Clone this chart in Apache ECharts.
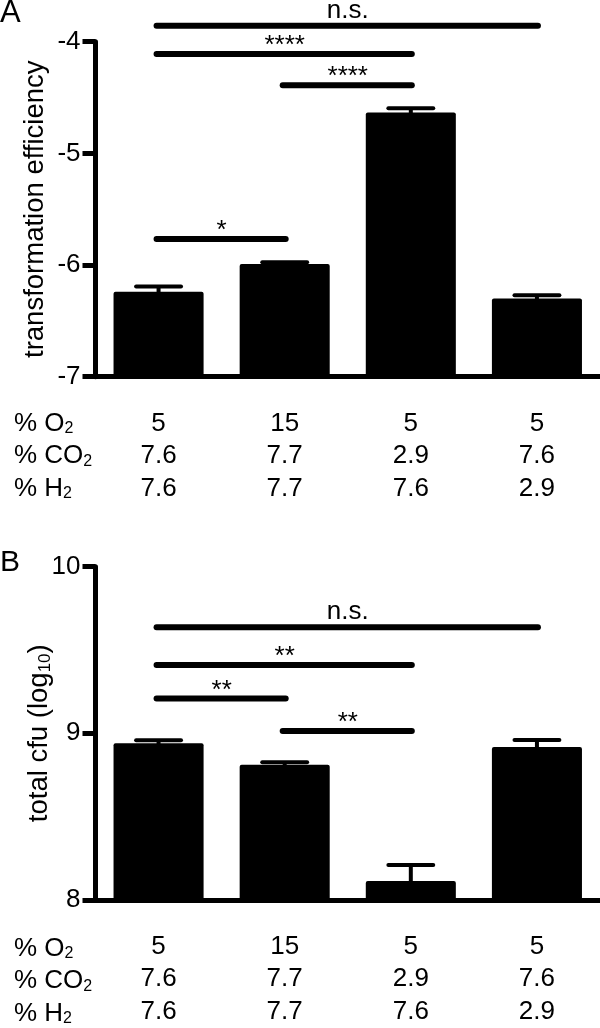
<!DOCTYPE html>
<html><head><meta charset="utf-8">
<script src="https://cdn.jsdelivr.net/npm/echarts@6/dist/echarts.min.js"></script>
<style>html,body{margin:0;padding:0;background:#fff}#c{width:600px;height:1028px}</style>
</head><body><div id="c"></div>
<script>
// ---- data ----
const categories = ['5% O2 / 7.6% CO2 / 7.6% H2', '15% O2 / 7.7% CO2 / 7.7% H2', '5% O2 / 2.9% CO2 / 7.6% H2', '5% O2 / 7.6% CO2 / 2.9% H2'];
const o2Labels = ['5', '15', '5', '5'];
const co2Labels = ['7.6', '7.7', '2.9', '7.6'];
const h2Labels = ['7.6', '7.7', '7.6', '2.9'];
const rowHeaders = ['% O{s|2}', '% CO{s|2}', '% H{s|2}'];

const efficiencyMean = [-6.24, -5.99, -4.635, -6.30];
const efficiencySem = [0.047, 0.015, 0.040, 0.030];
const efficiencyTicks = [-7, -6, -5, -4];
const efficiencySig = [[0, 3, -3.858], [0, 2, -4.111], [1, 2, -4.389], [0, 1, -5.767]];
const efficiencySigLabels = ['n.s.', '****', '****', '*'];

const cfuMean = [8.94, 8.81, 8.113, 8.918];
const cfuSem = [0.018, 0.016, 0.096, 0.042];
const cfuTicks = [8, 9, 10];
const cfuSig = [[0, 3, 9.636], [0, 2, 9.409], [0, 1, 9.208], [1, 2, 9.013]];
const cfuSigLabels = ['n.s.', '**', '**', '**'];

// ---- rendering ----
const FONT = '"Liberation Sans", Arial, Helvetica, sans-serif';
const chart = echarts.init(document.getElementById('c'), null, { renderer: 'canvas' });

const gridA = { left: 95.5, top: 41.7, width: 504.5, height: 335 };
const gridB = { left: 95.5, top: 566.7, width: 504.5, height: 335 };

function barRenderer(axisMin) {
  return function (params, api) {
    const i = api.value(0), v = api.value(1);
    const top = api.coord([i, v]);
    const base = api.coord([i, axisMin]);
    const w = api.size([1, 0])[0] * 0.714;
    return { type: 'rect', shape: { x: top[0] - w / 2, y: top[1], width: w, height: base[1] - top[1], r: [2, 2, 0, 0] }, style: { fill: '#000' } };
  };
}
function errRenderer(params, api) {
  const i = api.value(0), v = api.value(1), e = api.value(2);
  const p0 = api.coord([i, v]), p1 = api.coord([i, v + e]);
  const half = api.size([1, 0])[0] * 0.178;
  return { type: 'group', children: [
    { type: 'line', shape: { x1: p0[0], y1: p0[1] + 1, x2: p1[0], y2: p1[1] }, style: { stroke: '#000', lineWidth: 4 } },
    { type: 'line', shape: { x1: p1[0] - half, y1: p1[1], x2: p1[0] + half, y2: p1[1] }, style: { stroke: '#000', lineWidth: 4, lineCap: 'round' } }
  ] };
}
function sigRenderer(labels) {
  return function (params, api) {
    const a = api.coord([api.value(0), api.value(2)]);
    const b = api.coord([api.value(1), api.value(2)]);
    const txt = labels[params.dataIndex];
    const star = txt.indexOf('*') >= 0;
    return { type: 'group', children: [
      { type: 'line', shape: { x1: a[0] - 2, y1: a[1], x2: b[0] + 1, y2: b[1] }, style: { stroke: '#000', lineWidth: 6, lineCap: 'round' } },
      { type: 'text', x: (a[0] + b[0]) / 2, y: a[1] - (star ? 8 : 15),
        style: { text: txt, fill: '#000', fontSize: 26, fontFamily: FONT, align: 'center', verticalAlign: 'middle' } }
    ] };
  };
}

function xAxisFor(gridIndex) {
  return {
    type: 'category', gridIndex: gridIndex, data: categories, boundaryGap: true,
    axisLine: { lineStyle: { color: '#000', width: 5 } },
    axisTick: { alignWithLabel: true, length: 15, lineStyle: { color: '#000', width: 5, cap: 'round' } },
    axisLabel: {
      margin: 30.75, color: '#000', fontSize: 26, fontFamily: FONT, lineHeight: 32.5,
      formatter: function (v, idx) { return o2Labels[idx] + '\n' + co2Labels[idx] + '\n' + h2Labels[idx]; }
    },
    splitLine: { show: false }
  };
}
function yAxisFor(gridIndex, ticks, name, gap) {
  return {
    type: 'value', gridIndex: gridIndex, min: ticks[0], max: ticks[ticks.length - 1], interval: 1,
    name: name, nameLocation: 'middle', nameGap: gap, nameMoveOverlap: false,
    nameTextStyle: { color: '#000', fontSize: 27.5, fontFamily: FONT,
      rich: { s: { fontSize: 17, fontFamily: FONT, color: '#000', verticalAlign: 'bottom' } } },
    axisLine: { show: true, lineStyle: { color: '#000', width: 5 } },
    axisTick: { show: true, length: 13, lineStyle: { color: '#000', width: 5 } },
    axisLabel: { margin: 15, color: '#000', fontSize: 26, fontFamily: FONT },
    splitLine: { show: false }
  };
}

const graphics = [
  { type: 'text', left: 0, top: -2, style: { text: 'A', fontSize: 31, fontFamily: FONT, fill: '#000' } },
  { type: 'text', left: 0, top: 548, style: { text: 'B', fontSize: 30, fontFamily: FONT, fill: '#000' } }
];
[gridA, gridB].forEach(function (g) {
  const bottom = g.top + g.height;
  rowHeaders.forEach(function (h, k) {
    graphics.push({ type: 'text', x: 14, y: bottom + 47 + k * 32.5,
      style: { text: h, fontSize: 26, fontFamily: FONT, fill: '#000', verticalAlign: 'middle',
        rich: { s: { fontSize: 16, fontFamily: FONT, fill: '#000', verticalAlign: 'bottom' } } } });
  });
});

const option = {
  animation: false,
  backgroundColor: '#fff',
  grid: [gridA, gridB],
  xAxis: [xAxisFor(0), xAxisFor(1)],
  yAxis: [yAxisFor(0, efficiencyTicks, 'transformation efficiency', 46), yAxisFor(1, cfuTicks, 'total cfu (log{s|10})', 42)],
  graphic: graphics,
  series: [
    { type: 'custom', name: 'efficiency', xAxisIndex: 0, yAxisIndex: 0, renderItem: barRenderer(efficiencyTicks[0]),
      encode: { x: 0, y: 1 }, data: efficiencyMean.map(function (v, i) { return [i, v]; }), z: 2 },
    { type: 'custom', name: 'efficiency sem', xAxisIndex: 0, yAxisIndex: 0, renderItem: errRenderer,
      encode: { x: 0, y: 1 }, data: efficiencyMean.map(function (v, i) { return [i, v, efficiencySem[i]]; }), z: 3 },
    { type: 'custom', name: 'efficiency sig', xAxisIndex: 0, yAxisIndex: 0, renderItem: sigRenderer(efficiencySigLabels), clip: false,
      encode: { x: [0, 1], y: 2 }, data: efficiencySig, z: 4 },
    { type: 'custom', name: 'cfu', xAxisIndex: 1, yAxisIndex: 1, renderItem: barRenderer(cfuTicks[0]),
      encode: { x: 0, y: 1 }, data: cfuMean.map(function (v, i) { return [i, v]; }), z: 2 },
    { type: 'custom', name: 'cfu sem', xAxisIndex: 1, yAxisIndex: 1, renderItem: errRenderer,
      encode: { x: 0, y: 1 }, data: cfuMean.map(function (v, i) { return [i, v, cfuSem[i]]; }), z: 3 },
    { type: 'custom', name: 'cfu sig', xAxisIndex: 1, yAxisIndex: 1, renderItem: sigRenderer(cfuSigLabels), clip: false,
      encode: { x: [0, 1], y: 2 }, data: cfuSig, z: 4 }
  ]
};
chart.setOption(option);
</script>
</body></html>
